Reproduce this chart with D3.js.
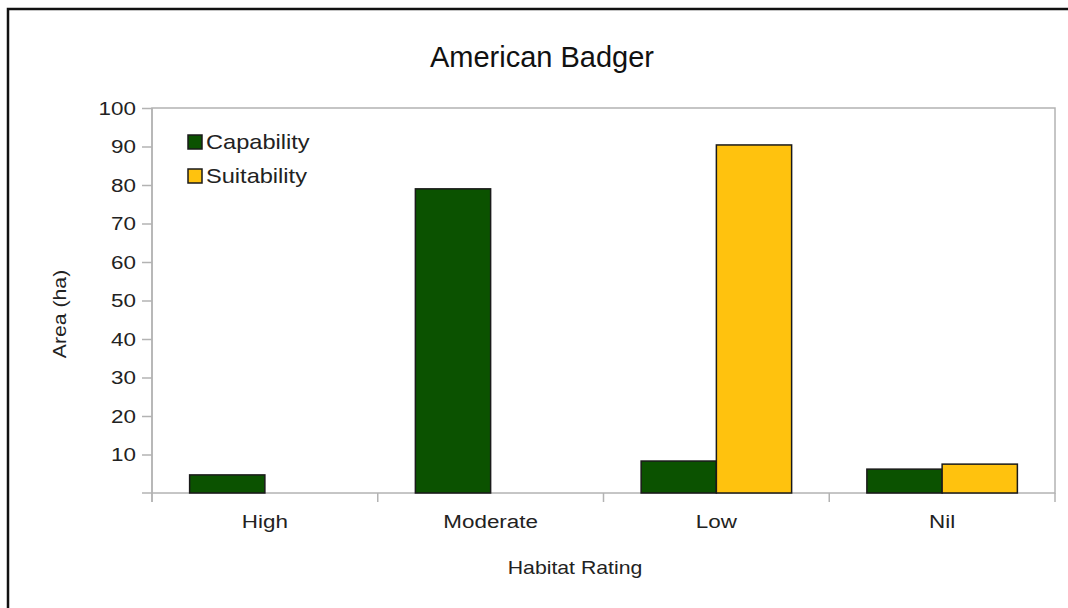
<!DOCTYPE html>
<html>
<head>
<meta charset="utf-8">
<script src="https://cdn.jsdelivr.net/npm/d3@7"></script>
<style>
  body { margin: 0; background: #fff; }
  svg { display: block; font-family: "Liberation Sans", Arial, sans-serif; }
</style>
</head>
<body>
<div id="chart"></div>
<script>
// Chart data
const categories = ["High", "Moderate", "Low", "Nil"];
const seriesNames = ["Capability", "Suitability"];
const capability = [4.7, 79, 8.3, 6.2];
const suitability = [0, 0, 90.4, 7.5];
const yTicks = [10, 20, 30, 40, 50, 60, 70, 80, 90, 100];

const width = 1068, height = 608;
const colors = {"Capability": "#0b5200", "Suitability": "#ffc20e"};
const stretchX = 1.18; // the source text is a bit wider than the font

const svg = d3.select('#chart').append('svg')
  .attr('width', width)
  .attr('height', height);

// widen text horizontally around its anchor
function stretch(sel) {
  sel.each(function () {
    const t = d3.select(this);
    const x0 = +t.attr('x') || 0, y0 = +t.attr('y') || 0;
    t.attr('x', 0).attr('y', 0)
      .attr('transform', `translate(${x0},${y0}) scale(${stretchX},1)`);
  });
}

// outer frame (only top and left edges visible in the photo)
svg.append('path')
  .attr('d', `M8,${height} L8,9 L${width},9`)
  .attr('fill', 'none')
  .attr('stroke', '#111')
  .attr('stroke-width', 2.5);

const plot = {left: 152, right: 1055, top: 108, bottom: 493};

const x = d3.scaleBand()
  .domain(categories)
  .range([plot.left, plot.right]);

const xInner = d3.scaleBand()
  .domain(seriesNames)
  .range([0, x.bandwidth()])
  .paddingOuter(0.5);

const y = d3.scaleLinear()
  .domain([0, 100])
  .range([plot.bottom, plot.top]);

// plot frame
svg.append('rect')
  .attr('x', plot.left).attr('y', plot.top)
  .attr('width', plot.right - plot.left)
  .attr('height', plot.bottom - plot.top)
  .attr('fill', 'none')
  .attr('stroke', '#b3b3b3')
  .attr('stroke-width', 1.5);

// title
svg.append('text')
  .attr('x', 542).attr('y', 67)
  .attr('text-anchor', 'middle')
  .attr('font-size', 29)
  .attr('fill', '#111')
  .text('American Badger');

// bars
const rows = categories.map((c, i) => ({cat: c, values: [capability[i], suitability[i]]}));
const groups = svg.append('g').selectAll('g')
  .data(rows)
  .join('g')
  .attr('transform', d => `translate(${x(d.cat)},0)`);

groups.selectAll('rect')
  .data(d => d.values.map((v, j) => ({name: seriesNames[j], value: v})).filter(d => d.value > 0))
  .join('rect')
  .attr('x', d => xInner(d.name))
  .attr('y', d => y(d.value))
  .attr('width', xInner.bandwidth())
  .attr('height', d => y(0) - y(d.value))
  .attr('fill', d => colors[d.name])
  .attr('stroke', '#1a1a1a')
  .attr('stroke-width', 1.5);

// y axis
const yAxis = svg.append('g')
  .attr('transform', `translate(${plot.left},0)`)
  .call(d3.axisLeft(y).tickValues(yTicks).tickSize(10).tickPadding(6));
yAxis.select('.domain').attr('stroke', '#b3b3b3').attr('stroke-width', 1.5)
  .attr('d', `M0,${plot.top}V${plot.bottom + 9}`);
yAxis.selectAll('line').attr('stroke', '#b3b3b3').attr('stroke-width', 1.5);
yAxis.selectAll('text').attr('font-size', 19).attr('fill', '#222')
  .attr('font-family', '"Liberation Sans", Arial, sans-serif')
  .call(stretch);

// zero tick on y axis
svg.append('line')
  .attr('x1', plot.left - 10).attr('x2', plot.left)
  .attr('y1', y(0)).attr('y2', y(0))
  .attr('stroke', '#b3b3b3').attr('stroke-width', 1.5);

// x axis
const xAxis = svg.append('g')
  .attr('transform', `translate(0,${plot.bottom})`)
  .call(d3.axisBottom(x).tickSize(0).tickPadding(21));
xAxis.select('.domain').remove();
xAxis.selectAll('text').attr('font-size', 19).attr('fill', '#222')
  .attr('font-family', '"Liberation Sans", Arial, sans-serif')
  .call(stretch);

// category separators
const bounds = categories.map(c => x(c)).concat([x.range()[1]]);
svg.append('g').selectAll('line')
  .data(bounds)
  .join('line')
  .attr('x1', d => d).attr('x2', d => d)
  .attr('y1', plot.bottom).attr('y2', plot.bottom + 9)
  .attr('stroke', '#b3b3b3').attr('stroke-width', 1.5);

// axis titles
svg.append('text')
  .attr('x', 575).attr('y', 574)
  .attr('text-anchor', 'middle')
  .attr('font-size', 18)
  .attr('fill', '#222')
  .text('Habitat Rating')
  .call(stretch);

svg.append('g')
  .attr('transform', 'translate(66,314) rotate(-90)')
  .append('text')
  .attr('text-anchor', 'middle')
  .attr('font-size', 18)
  .attr('fill', '#222')
  .text('Area (ha)')
  .call(stretch);

// legend
const legend = svg.append('g').attr('transform', 'translate(188,135)');
const li = legend.selectAll('g')
  .data(seriesNames)
  .join('g')
  .attr('transform', (d, i) => `translate(0,${i * 34})`);
li.append('rect')
  .attr('width', 14).attr('height', 14)
  .attr('fill', d => colors[d])
  .attr('stroke', '#1a1a1a')
  .attr('stroke-width', 1.5);
li.append('text')
  .attr('x', 18).attr('y', 14)
  .attr('font-size', 20)
  .attr('fill', '#222')
  .text(d => d)
  .call(stretch);
</script>
</body>
</html>
